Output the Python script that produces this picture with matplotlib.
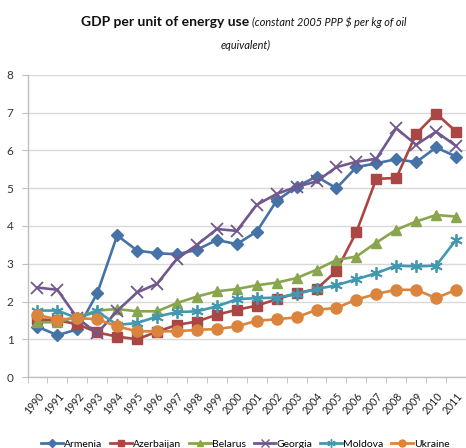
import matplotlib
matplotlib.use("Agg")
import matplotlib.pyplot as plt
from matplotlib.lines import Line2D

years = [str(y) for y in range(1990, 2012)]
armenia = [1.33, 1.11, 1.26, 2.22, 3.75, 3.35, 3.28, 3.25, 3.37, 3.63, 3.52,
           3.85, 4.67, 5.04, 5.31, 5.00, 5.56, 5.66, 5.77, 5.69, 6.08, 5.84]
azerbaijan = [1.53, 1.50, 1.40, 1.18, 1.07, 1.00, 1.20, 1.38, 1.47, 1.65, 1.78,
              1.89, 2.06, 2.22, 2.33, 2.81, 3.84, 5.25, 5.27, 6.44, 6.98, 6.50]
belarus = [1.45, 1.45, 1.59, 1.76, 1.80, 1.74, 1.74, 1.96, 2.13, 2.27, 2.33,
           2.43, 2.50, 2.62, 2.84, 3.10, 3.19, 3.56, 3.90, 4.12, 4.29, 4.25]
georgia = [2.37, 2.31, 1.56, 1.16, 1.75, 2.24, 2.47, 3.13, 3.50, 3.92, 3.87,
           4.56, 4.85, 5.04, 5.18, 5.56, 5.70, 5.78, 6.59, 6.15, 6.50, 6.12]
moldova = [1.76, 1.76, 1.56, 1.74, 1.38, 1.43, 1.60, 1.72, 1.74, 1.87, 2.06,
           2.09, 2.10, 2.20, 2.33, 2.43, 2.59, 2.75, 2.95, 2.93, 2.95, 3.63]
ukraine = [1.65, 1.52, 1.56, 1.53, 1.34, 1.21, 1.21, 1.21, 1.25, 1.27, 1.34,
           1.49, 1.53, 1.58, 1.78, 1.83, 2.05, 2.20, 2.31, 2.31, 2.09, 2.31]
names = ["Armenia", "Azerbaijan", "Belarus", "Georgia", "Moldova", "Ukraine"]
y_ticks = [0, 1, 2, 3, 4, 5, 6, 7, 8]

plt.rcParams['font.family'] = ['Lato', 'DejaVu Sans']

W, H = 466, 448
fig = plt.figure(figsize=(W / 100, H / 100), dpi=100)
left_px, right_px, top_px, bot_px = 27.5, 466, 75, 377
ax = fig.add_axes([left_px / W, 1 - bot_px / H, (right_px - left_px) / W, (bot_px - top_px) / H])

series = [armenia, azerbaijan, belarus, georgia, moldova, ukraine]
colors = ["#4572A7", "#AA4643", "#89A54E", "#71588F", "#4198AF", "#DB843D"]
markers = ["D", "s", "^", "x", (6, 2, 0), "o"]
msizes = [6, 7, 7, 9, 9, 8]
x = list(range(len(years)))
for vals, c, m, ms, name in zip(series, colors, markers, msizes, names):
    ax.plot(x, vals, color=c, marker=m, markersize=ms, linewidth=1.9, label=name,
            markeredgecolor=c, markeredgewidth=1.3 if m in ("x", (6, 2, 0)) else 1.0,
            clip_on=False)

spacing = 20.3
ax.set_xlim(-0.5, -0.5 + (right_px - left_px) / spacing)
ax.set_ylim(0, 8)
ax.set_yticks(y_ticks)
ax.set_yticklabels([str(v) for v in y_ticks], fontsize=8.5, color="#333333")
ax.set_xticks(x)
ax.set_xticklabels(years, rotation=50, fontsize=7.6, ha="right", rotation_mode="anchor", color="#222222")
ax.set_xticks([i - 0.5 for i in range(len(years) + 1)], minor=True)
ax.tick_params(axis="x", which="major", length=0, pad=10)
ax.tick_params(axis="x", which="minor", length=4, color="#BFBFBF", direction="out")
ax.tick_params(axis="y", length=4, color="#BFBFBF", direction="out", pad=6)
ax.grid(axis="y", color="#D9D9D9", linewidth=1.0)
ax.set_axisbelow(True)
for s in ["top", "right"]:
    ax.spines[s].set_visible(False)
for s in ["left", "bottom"]:
    ax.spines[s].set_color("#BFBFBF")
    ax.spines[s].set_linewidth(1.0)

fig.text(249 / W, 1 - 22 / H, "GDP per unit of energy use", fontsize=10, fontweight="bold",
         ha="right", va="center", color="#111111")
fig.text(252 / W, 1 - 22.5 / H, "(constant 2005 PPP $ per kg of oil", fontsize=7.8, style="italic",
         ha="left", va="center", color="#111111")
fig.text(246 / W, 1 - 45 / H, "equivalent)", fontsize=7.8, style="italic",
         ha="center", va="center", color="#111111")

handles = []
hsizes = [4, 5, 5, 6, 6, 5]
for c, m, ms, name in zip(colors, markers, hsizes, names):
    handles.append(Line2D([], [], color=c, marker=m, markersize=ms, linewidth=2.0,
                          markeredgecolor=c, label=name))
leg = fig.legend(handles=handles, loc="center left", bbox_to_anchor=(41 / W, 1 - 444 / H), ncol=6,
                 frameon=False, fontsize=7.5, handlelength=2.1, handletextpad=0.1,
                 columnspacing=0.75, borderpad=0, borderaxespad=0)

fig.savefig("out.png", dpi=100)
